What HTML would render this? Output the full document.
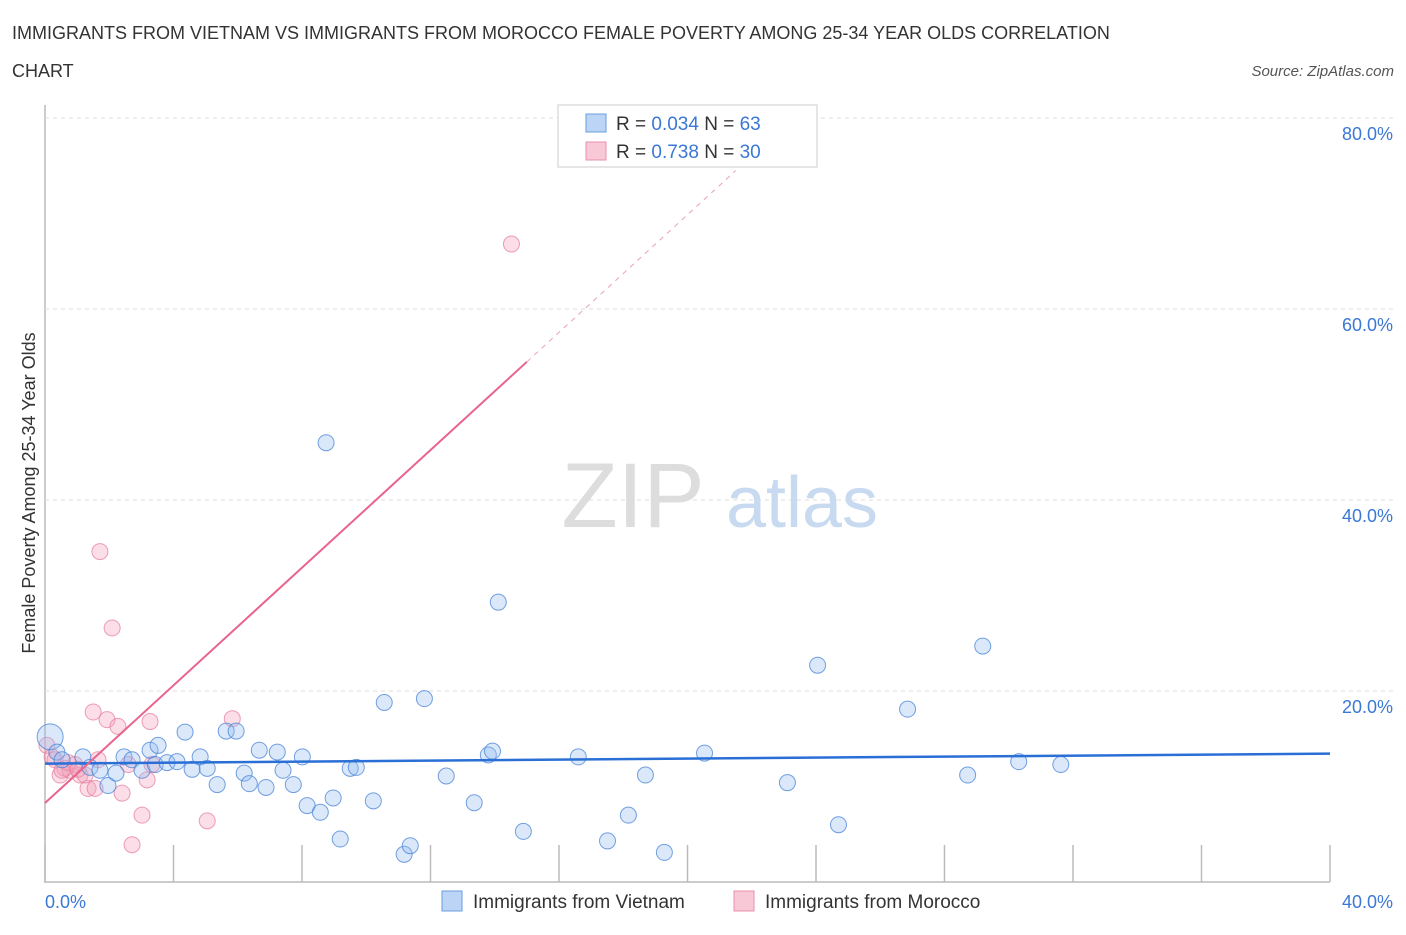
<!DOCTYPE html>
<html><head><meta charset="utf-8"><style>
body{margin:0;background:#fff;font-family:"Liberation Sans",sans-serif;}
svg text{font-family:"Liberation Sans",sans-serif;}
</style></head><body>
<svg id="chart" width="1406" height="930" xmlns="http://www.w3.org/2000/svg">
<text x="12" y="39" font-size="18" fill="#333">IMMIGRANTS FROM VIETNAM VS IMMIGRANTS FROM MOROCCO FEMALE POVERTY AMONG 25-34 YEAR OLDS CORRELATION</text>
<text x="12" y="77" font-size="18" fill="#333">CHART</text>
<text x="1394" y="76" font-size="15" fill="#555" font-style="italic" text-anchor="end">Source: ZipAtlas.com</text>
<g id="grid"></g>
<text x="633" y="527" font-size="92" fill="#ddd" font-family="Liberation Serif" text-anchor="middle">ZIP</text>
<text x="802" y="527" font-size="72" fill="#c8daf0" text-anchor="middle">atlas</text>
<g id="pts"></g>
<g id="lines"></g>
<text transform="translate(35,493) rotate(-90)" font-size="18" fill="#333" text-anchor="middle">Female Poverty Among 25-34 Year Olds</text>
<text x="45" y="908" font-size="18" fill="#3a78d4" text-anchor="start">0.0%</text>
<text x="1393" y="908" font-size="18" fill="#3a78d4" text-anchor="end">40.0%</text>
<g>
<rect x="558" y="105" width="259" height="62" fill="#fff" stroke="#ccc"/>
<rect x="586" y="114" width="20" height="18" fill="#bcd4f5" stroke="#6a9ee0"/>
<rect x="586" y="142" width="20" height="18" fill="#f8c8d6" stroke="#ea90ac"/>
<text x="616" y="130" font-size="19" fill="#333">R = <tspan fill="#3a78d4">0.034</tspan>   N = <tspan fill="#3a78d4">63</tspan></text>
<text x="616" y="158" font-size="19" fill="#333">R =  <tspan fill="#3a78d4">0.738</tspan>   N = <tspan fill="#3a78d4">30</tspan></text>
</g>
<g>
<rect x="442" y="891" width="20" height="20" fill="#bcd4f5" stroke="#6a9ee0"/>
<text x="473" y="908" font-size="19" fill="#333">Immigrants from Vietnam</text>
<rect x="734" y="891" width="20" height="20" fill="#f8c8d6" stroke="#ea90ac"/>
<text x="765" y="908" font-size="19" fill="#333">Immigrants from Morocco</text>
</g>
</svg>
<script>
const yTicks=[20,40,60,80];
const xTicks=[0,4,8,12,16,20,24,28,32,36,40];
const vietX=[0.16,0.37,0.53,1.18,1.40,1.71,1.96,2.21,2.46,2.71,3.02,3.27,3.43,3.52,3.80,4.11,4.36,4.58,4.83,5.05,5.36,5.64,5.95,6.20,6.36,6.67,6.88,7.23,7.41,7.73,8.01,8.16,8.57,8.75,8.97,9.19,9.50,9.69,10.22,10.56,11.18,11.37,11.81,12.49,13.36,13.80,13.93,14.11,14.89,16.60,17.51,18.16,18.69,19.28,20.53,23.11,24.05,24.70,26.85,28.72,29.19,30.31,31.62];
const vietY=[15.2,13.6,12.8,13.1,12.0,11.7,10.1,11.4,13.1,12.8,11.7,13.8,12.3,14.3,12.5,12.6,15.7,11.8,13.1,11.9,10.2,15.8,15.8,11.4,10.3,13.8,9.9,13.6,11.7,10.2,13.1,8.0,7.3,46.0,8.8,4.5,11.9,12.0,8.5,18.8,2.9,3.8,19.2,11.1,8.3,13.3,13.7,29.3,5.3,13.1,4.3,7.0,11.2,3.1,13.5,10.4,22.7,6.0,18.1,11.2,24.7,12.6,12.3];
const morX=[0.06,0.22,0.47,0.62,0.78,0.93,1.09,1.34,1.50,1.56,1.71,1.93,2.09,2.27,2.40,2.59,2.71,3.02,3.18,3.27,3.33,5.05,5.83,14.52,0.31,0.72,1.03,1.65,0.53,1.25];
const morY=[14.3,13.1,11.2,11.9,11.7,12.3,11.2,9.8,17.8,9.8,34.6,17.0,26.6,16.3,9.3,12.3,3.9,7.0,10.7,16.8,12.3,6.4,17.1,66.8,12.8,12.5,11.8,12.8,11.7,11.2];
const vietTrend=[12.4,0.026];
const morTrend=[8.27,3.08];
const NS="http://www.w3.org/2000/svg";
const X=v=>45+v*32.125, Y=v=>882-v*9.55;
function mk(t,a,p){const e=document.createElementNS(NS,t);for(const k in a)e.setAttribute(k,a[k]);p.appendChild(e);return e;}
const grid=document.getElementById('grid');
let ax=mk('line',{x1:45,y1:105,x2:45,y2:883,stroke:'#bbb','stroke-width':1.5},grid);


let bx=mk('line',{x1:45,y1:882,x2:1330,y2:882,stroke:'#bbb','stroke-width':1.5},grid);


yTicks.forEach(t=>{
 let l=mk('line',{x1:45,y1:Y(t),x2:1395,y2:Y(t),stroke:'#ddd','stroke-dasharray':'4,4'},grid);
 
 
 let tx=mk('text',{x:1393,y:Y(t)+22,'font-size':18,fill:'#3a78d4','text-anchor':'end'},grid);
 tx.textContent=t.toFixed(1)+'%';
 
 
});
xTicks.forEach(t=>{
 let l=mk('line',{x1:X(t),y1:845,x2:X(t),y2:882,stroke:'#bbb','stroke-width':1.5},grid);
 
 
});
const pts=document.getElementById('pts');
morX.forEach((x,i)=>{
 let c=mk('circle',{cx:X(x),cy:Y(morY[i]),r:8,fill:'rgba(244,160,185,0.35)',stroke:'rgba(230,120,155,0.7)','stroke-width':1},pts);
 
 
});
vietX.forEach((x,i)=>{
 let c=mk('circle',{cx:X(x),cy:Y(vietY[i]),r:i==0?13:8,fill:'rgba(150,190,240,0.35)',stroke:'rgba(70,130,215,0.75)','stroke-width':1},pts);
 
 
});
const lines=document.getElementById('lines');
let bl=mk('line',{x1:X(0),y1:Y(vietTrend[0]),x2:X(40),y2:Y(vietTrend[0]+vietTrend[1]*40),stroke:'#2a6fd6','stroke-width':2.5},lines);


let pl=mk('line',{x1:X(0),y1:Y(morTrend[0]),x2:X(15),y2:Y(morTrend[0]+morTrend[1]*15),stroke:'#e8648c','stroke-width':2},lines);


let pd=mk('line',{x1:X(15),y1:Y(morTrend[0]+morTrend[1]*15),x2:X(21.5),y2:Y(morTrend[0]+morTrend[1]*21.5),stroke:'#eaa0b8','stroke-width':1,'stroke-dasharray':'5,5'},lines);


</script>
</body></html>
